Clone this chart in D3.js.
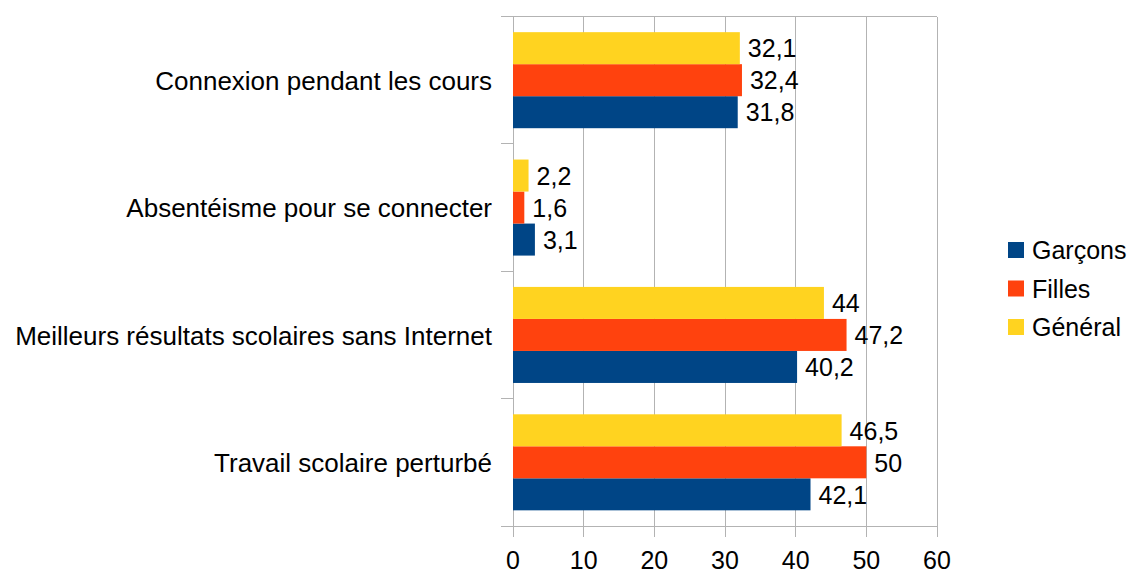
<!DOCTYPE html>
<html><head><meta charset="utf-8">
<script src="https://cdn.jsdelivr.net/npm/d3@7"></script>
<style>body{margin:0;background:#fff;} text{font-family:"Liberation Sans",Arial,sans-serif;fill:#000;}</style>
</head><body>
<svg id="c" width="1130" height="571"></svg>
<script>
const categories = ["Connexion pendant les cours","Absentéisme pour se connecter","Meilleurs résultats scolaires sans Internet","Travail scolaire perturbé"];
const seriesNames = ["Garçons","Filles","Général"];
const garcons = [31.8, 3.1, 40.2, 42.1];
const filles = [32.4, 1.6, 47.2, 50];
const general = [32.1, 2.2, 44, 46.5];
const colors = ["#004586","#ff420e","#ffd320"];
const xTicks = [0,10,20,30,40,50,60];

(function(){
const svg = d3.select("#c");
const FS = 25;
const pL = 513, pR = 937, pT = 16.5, pB = 526;
const x = d3.scaleLinear().domain([0,60]).range([pL,pR]);
const y = d3.scaleBand().domain(categories).range([pT,pB]).paddingInner(0.246).paddingOuter(0.123);
const inner = d3.scaleBand().domain(["Général","Filles","Garçons"]).range([0,y.bandwidth()]);
const grid = "#b3b3b3";

svg.append("g").selectAll("line").data(xTicks).join("line")
  .attr("x1",d=>x(d)).attr("x2",d=>x(d)).attr("y1",pT).attr("y2",pB+11)
  .attr("stroke",grid).attr("stroke-width",1).attr("shape-rendering","crispEdges");
[pT,pB].forEach(v=>svg.append("line").attr("x1",pL-12).attr("x2",pR).attr("y1",v).attr("y2",v)
  .attr("stroke",grid).attr("shape-rendering","crispEdges"));
const yTickPos = categories.map((c,i)=>pT + i*(pB-pT)/categories.length).concat([pB]);
svg.append("g").selectAll("line").data(yTickPos).join("line")
  .attr("x1",pL-12).attr("x2",pL).attr("y1",d=>d).attr("y2",d=>d)
  .attr("stroke",grid).attr("shape-rendering","crispEdges");

svg.append("g").selectAll("text").data(xTicks).join("text")
  .attr("x",d=>x(d)).attr("y",569).attr("text-anchor","middle").attr("font-size",FS).text(d=>d);

svg.append("g").selectAll("text").data(categories).join("text")
  .attr("x",492).attr("y",d=>y(d)+y.bandwidth()/2).attr("dy","0.37em")
  .attr("text-anchor","end").attr("font-size",26).text(d=>d);

const series = [
  {name:"Garçons", values:garcons, color:colors[0]},
  {name:"Filles", values:filles, color:colors[1]},
  {name:"Général", values:general, color:colors[2]}
];
const fmt = v => String(v).replace(".", ",");
series.forEach(s=>{
  const g = svg.append("g");
  g.selectAll("rect").data(s.values).join("rect")
    .attr("x",x(0)).attr("y",(d,i)=>y(categories[i])+inner(s.name))
    .attr("width",d=>x(d)-x(0)).attr("height",inner.bandwidth()).attr("fill",s.color);
  g.selectAll("text").data(s.values).join("text")
    .attr("x",d=>x(d)+8).attr("y",(d,i)=>y(categories[i])+inner(s.name)+inner.bandwidth()/2).attr("dy","0.37em")
    .attr("font-size",FS).text(d=>fmt(d));
});

const leg = svg.append("g");
series.forEach((s,i)=>{
  const cy = 250 + i*38.5;
  leg.append("rect").attr("x",1008).attr("y",cy-8).attr("width",16).attr("height",16).attr("fill",s.color);
  leg.append("text").attr("x",1032).attr("y",cy).attr("dy","0.37em").attr("font-size",FS).text(s.name);
});
})();
</script>
</body></html>
